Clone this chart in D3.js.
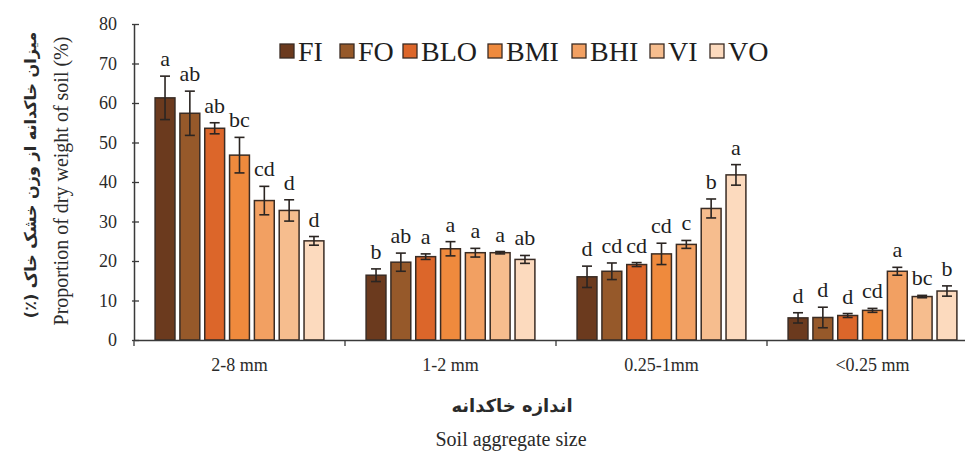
<!DOCTYPE html>
<html><head><meta charset="utf-8">
<script src="https://cdn.jsdelivr.net/npm/d3@7/dist/d3.min.js"></script>
<style>body{margin:0;background:#fff}svg{display:block}</style>
</head><body>
<svg id="c" width="965" height="451"></svg>
<script>
const categories = ["2-8 mm", "1-2 mm", "0.25-1mm", "<0.25 mm"];
const seriesNames = ["FI", "FO", "BLO", "BMI", "BHI", "VI", "VO"];
const colors = ["#6b3a1e", "#96592a", "#dc662a", "#ef8a3d", "#f2a062", "#f6bd8e", "#fcdabe"];
// values[series][category]
const FI  = [61.3, 16.4, 16.0, 5.6];
const FO  = [57.4, 19.7, 17.4, 5.7];
const BLO = [53.6, 21.1, 19.1, 6.2];
const BMI = [46.8, 23.1, 21.8, 7.5];
const BHI = [35.3, 22.1, 24.2, 17.4];
const VI  = [32.8, 22.1, 33.3, 11.0];
const VO  = [25.1, 20.4, 41.8, 12.4];
const errFI  = [5.5, 1.6, 2.7, 1.3];
const errFO  = [5.6, 2.3, 2.1, 2.6];
const errBLO = [1.4, 0.7, 0.5, 0.5];
const errBMI = [4.5, 1.8, 2.7, 0.5];
const errBHI = [3.6, 1.1, 1.0, 1.0];
const errVI  = [2.7, 0.3, 2.4, 0.3];
const errVO  = [1.1, 1.0, 2.6, 1.3];
const lettersFI  = ["a", "b", "d", "d"];
const lettersFO  = ["ab", "ab", "cd", "d"];
const lettersBLO = ["ab", "a", "cd", "d"];
const lettersBMI = ["bc", "a", "cd", "cd"];
const lettersBHI = ["cd", "a", "c", "a"];
const lettersVI  = ["d", "a", "b", "bc"];
const lettersVO  = ["d", "ab", "a", "b"];
const yTicks = [0, 10, 20, 30, 40, 50, 60, 70, 80];

const values = [FI, FO, BLO, BMI, BHI, VI, VO];
const errors = [errFI, errFO, errBLO, errBMI, errBHI, errVI, errVO];
const letters = [lettersFI, lettersFO, lettersBLO, lettersBMI, lettersBHI, lettersVI, lettersVO];

const svg = d3.select("#c");
const serif = "'Liberation Serif','Times New Roman',serif";
const axisX = 134, baseY = 340, topY = 24;

const y = d3.scaleLinear().domain([0, 80]).range([baseY, topY]);
const x0 = d3.scaleBand().domain(categories).range([axisX, axisX + 4 * 211]).padding(0);
const x1 = d3.scaleBand().domain(seriesNames).range([0, x0.bandwidth()]).paddingInner(0.2).paddingOuter(0.85);

const data = [];
categories.forEach((c, ci) => seriesNames.forEach((s, si) => {
  data.push({c, s, si, v: values[si][ci], e: errors[si][ci], l: letters[si][ci]});
}));

const g = svg.append("g");
g.selectAll("rect.bar").data(data).enter().append("rect")
  .attr("x", d => x0(d.c) + x1(d.s))
  .attr("y", d => y(d.v))
  .attr("width", x1.bandwidth())
  .attr("height", d => y(0) - y(d.v))
  .attr("fill", d => colors[d.si])
  .attr("stroke", "#3a2c24").attr("stroke-width", 1.5);

const eb = g.selectAll("g.err").data(data).enter().append("g")
  .attr("stroke", "#2b2522").attr("stroke-width", 1.6);
const cx = d => x0(d.c) + x1(d.s) + x1.bandwidth() / 2;
eb.append("line").attr("x1", cx).attr("x2", cx).attr("y1", d => y(d.v + d.e)).attr("y2", d => y(d.v - d.e));
eb.append("line").attr("x1", d => cx(d) - 5).attr("x2", d => cx(d) + 5).attr("y1", d => y(d.v + d.e)).attr("y2", d => y(d.v + d.e));
eb.append("line").attr("x1", d => cx(d) - 5).attr("x2", d => cx(d) + 5).attr("y1", d => y(d.v - d.e)).attr("y2", d => y(d.v - d.e));

g.selectAll("text.lt").data(data).enter().append("text")
  .attr("x", cx).attr("y", d => y(d.v + d.e) - 10)
  .attr("text-anchor", "middle").attr("font-family", serif).attr("font-size", 22)
  .attr("fill", "#1e1e1e").text(d => d.l);

const yAxis = svg.append("g").attr("transform", `translate(${axisX},0)`)
  .call(d3.axisLeft(y).tickValues(yTicks).tickSize(0).tickPadding(17));
yAxis.select(".domain").attr("stroke", "#3a3a3a").attr("stroke-width", 1.5);
yAxis.selectAll("text").attr("font-family", serif).attr("font-size", 18).attr("fill", "#2a2a2a");
yAxis.selectAll(".tick").append("line").attr("x1", -2).attr("x2", 5).attr("stroke", "#3a3a3a").attr("stroke-width", 1.3);

const xAxis = svg.append("g").attr("transform", `translate(0,${baseY})`)
  .call(d3.axisBottom(x0).tickSize(0).tickPadding(18));
xAxis.select(".domain").attr("stroke", "#3a3a3a").attr("stroke-width", 1.5);
xAxis.selectAll("text").attr("font-family", serif).attr("font-size", 18).attr("fill", "#2a2a2a");
const bounds = categories.map(c => x0(c)).concat([x0.range()[1]]);
xAxis.selectAll("line.b").data(bounds).enter().append("line")
  .attr("x1", d => d).attr("x2", d => d).attr("y1", 0).attr("y2", 6)
  .attr("stroke", "#3a3a3a").attr("stroke-width", 1.3);

const legendX = [280, 340, 403, 488, 572, 650, 710];
const lg = svg.append("g");
seriesNames.forEach((s, i) => {
  lg.append("rect").attr("x", legendX[i]).attr("y", 44).attr("width", 14).attr("height", 14)
    .attr("fill", colors[i]).attr("stroke", "#3a2c24").attr("stroke-width", 1.3);
  lg.append("text").attr("x", legendX[i] + 18).attr("y", 61).attr("font-family", serif)
    .attr("font-size", 28).attr("fill", "#1e1e1e").text(s);
});

svg.append("text").attr("transform", "translate(68,181) rotate(-90)").attr("text-anchor", "middle")
  .attr("font-family", serif).attr("font-size", 20).attr("fill", "#2a2a2a")
  .text("Proportion of dry weight of soil (%)");
svg.append("text").attr("transform", "translate(36,175) rotate(-90)").attr("text-anchor", "middle")
  .attr("font-family", "'DejaVu Sans',sans-serif").attr("font-weight", "bold").attr("font-size", 16)
  .attr("fill", "#2a2a2a").attr("direction", "rtl")
  .text("میزان خاکدانه از وزن خشک خاک (٪)");
svg.append("text").attr("x", 512).attr("y", 412).attr("text-anchor", "middle")
  .attr("font-family", "'DejaVu Sans',sans-serif").attr("font-weight", "bold").attr("font-size", 18)
  .attr("fill", "#2a2a2a").attr("direction", "rtl").text("اندازه خاکدانه");
svg.append("text").attr("x", 511).attr("y", 446).attr("text-anchor", "middle")
  .attr("font-family", serif).attr("font-size", 20).attr("fill", "#2a2a2a").text("Soil aggregate size");
</script>
</body></html>
